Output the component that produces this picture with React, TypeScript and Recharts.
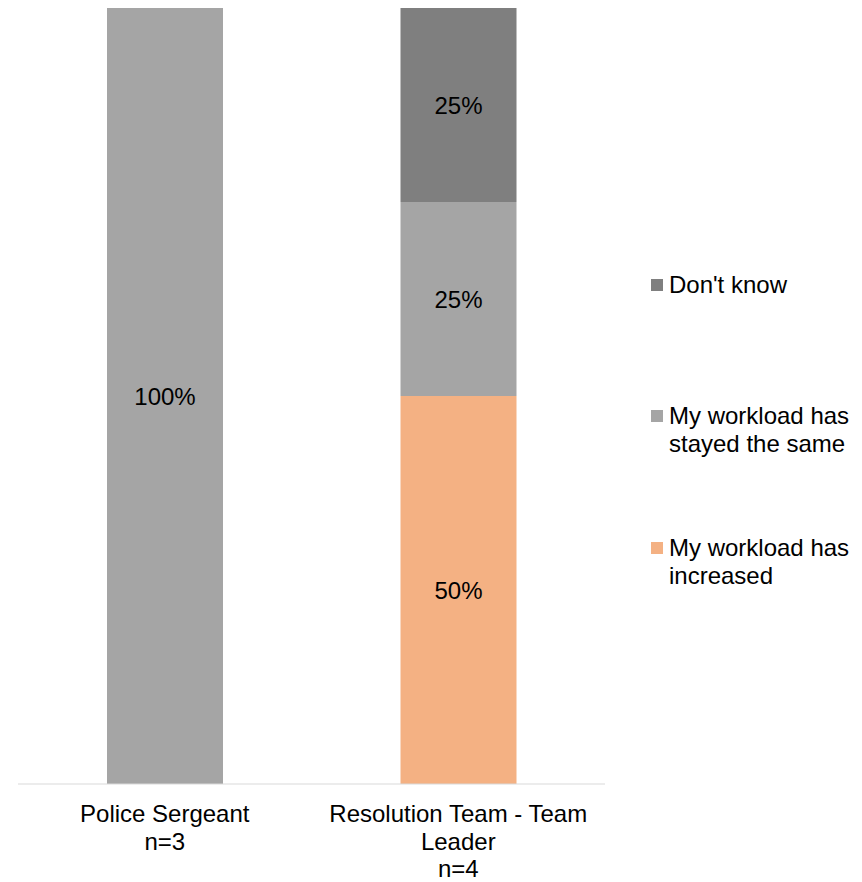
import React from "react";
import { BarChart, Bar, XAxis, YAxis, LabelList } from "recharts";

const categories = ["Police Sergeant n=3", "Resolution Team - Team Leader n=4"];
const tickLines = [
  ["Police Sergeant", "n=3"],
  ["Resolution Team - Team", "Leader", "n=4"],
];
const increased = [0, 50];
const stayedSame = [100, 25];
const dontKnow = [0, 25];

const SERIES = [
  { key: "increased", name: "My workload has increased", lines: ["My workload has", "increased"], color: "#f4b183" },
  { key: "same", name: "My workload has stayed the same", lines: ["My workload has", "stayed the same"], color: "#a5a5a5" },
  { key: "dontKnow", name: "Don't know", lines: ["Don't know"], color: "#7f7f7f" },
];

const data = categories.map((c, i) => ({
  category: c,
  increased: increased[i],
  same: stayedSame[i],
  dontKnow: dontKnow[i],
}));

const FONT = "'Liberation Sans', Arial, sans-serif";

function CategoryTick({ x, y, payload, index }: any) {
  const lines = tickLines[index ?? 0] || [payload.value];
  return (
    <g transform={`translate(${x},${y})`}>
      {lines.map((l, i) => (
        <text key={i} x={0} y={22 + i * 27.5} dy="0.35em" textAnchor="middle" fontSize={24} fill="#000" fontFamily={FONT}>
          {l}
        </text>
      ))}
    </g>
  );
}

const legendTops = [271, 402, 534];

function LegendBox() {
  const items = [...SERIES].reverse();
  return (
    <div style={{ position: "absolute", left: 651, top: 0, width: 211, height: 600, fontFamily: FONT, fontSize: 24, lineHeight: "28px", color: "#000" }}>
      {items.map((s, i) => (
        <div key={s.key} style={{ position: "absolute", left: 0, top: legendTops[i] }}>
          <span style={{ position: "absolute", left: 0, top: 8, width: 12, height: 12, background: s.color }} />
          <div style={{ marginLeft: 18, whiteSpace: "nowrap" }}>
            {s.lines.map((l, j) => (
              <div key={j}>{l}</div>
            ))}
          </div>
        </div>
      ))}
    </div>
  );
}

const pct = (v: any) => (v ? `${v}%` : "");

export default function App() {
  return (
    <div style={{ position: "absolute", left: 0, top: 0, width: 862, height: 882, background: "#fff" }}>
      <BarChart width={862} height={882} data={data} margin={{ top: 8, right: 257, bottom: 0, left: 18 }}>
        <XAxis
          dataKey="category"
          axisLine={{ stroke: "#d9d9d9", strokeWidth: 1 }}
          tickLine={false}
          tick={<CategoryTick />}
          interval={0}
          height={98}
        />
        <YAxis hide domain={[0, 100]} />
        {SERIES.map((s) => (
          <Bar key={s.key} dataKey={s.key} name={s.name} stackId="a" fill={s.color} barSize={116} isAnimationActive={false}>
            <LabelList dataKey={s.key} position="center" formatter={pct} fill="#000" fontSize={24} fontFamily={FONT} />
          </Bar>
        ))}
      </BarChart>
      <LegendBox />
    </div>
  );
}
